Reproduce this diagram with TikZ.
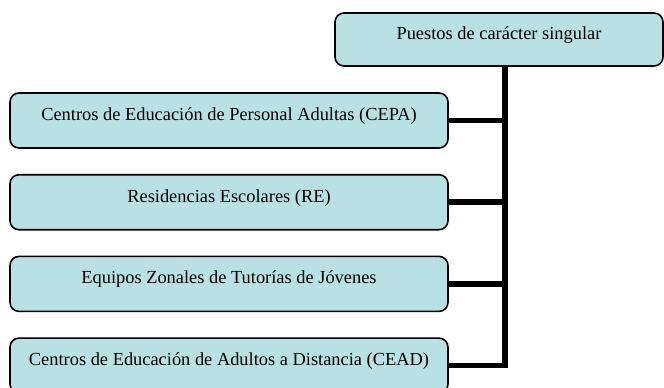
\documentclass[tikz,border=0pt]{standalone}
\usepackage{fontspec}
\setmainfont{Liberation Serif}
\usepackage{tikz}
\usetikzlibrary{positioning}
\definecolor{boxfill}{RGB}{185,224,227}
\tikzstyle{unit}=[draw=black, fill=boxfill, line width=1.6pt, rounded corners=9pt, minimum height=55pt, minimum width=438pt, text height=12pt, text depth=12pt, inner sep=0pt]
\tikzstyle{head}=[unit, minimum height=53pt, minimum width=328pt]
\tikzstyle{link}=[line width=5.5pt, line join=miter]

\begin{document}
\begin{tikzpicture}
[x=1pt, y=-1pt, node distance = 81.7pt, font=\fontsize{18.4}{22}\selectfont]
\useasboundingbox (0,0) rectangle (664,388);
\node[head] (ps) at (499,39.5) {Puestos de carácter singular};
\node[unit] (cepa) at (229,120.5) {Centros de Educación de Personal Adultas (CEPA)};
\node[unit] [below of =cepa] (re) {Residencias Escolares (RE)};
\node[unit] [below of =re] (ez) {Equipos Zonales de Tutorías de Jóvenes};
\node[unit] [below of =ez] (cead) {Centros de Educación de Adultos a Distancia (CEAD)};
\coordinate (tr) at (505,0);
\draw[link] (ps.south -| tr) |- (cead.east);
\path[link]{
(cepa.east) edge (cepa.east -| tr)
(re.east) edge (re.east -| tr)
(ez.east) edge (ez.east -| tr)
};
\end{tikzpicture}
\end{document}
